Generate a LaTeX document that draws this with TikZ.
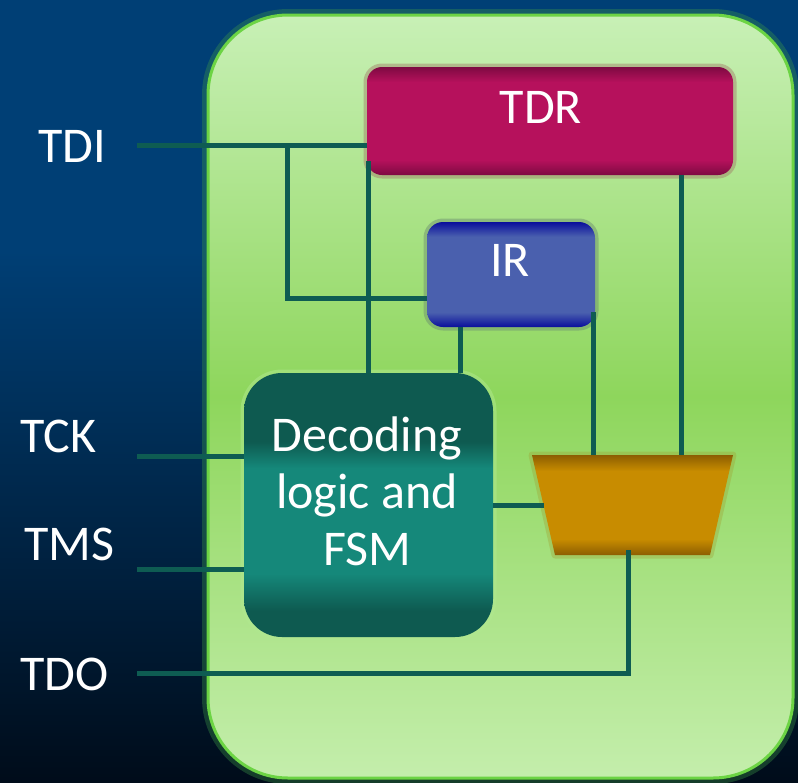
\documentclass[tikz,border=0pt]{standalone}
\usepackage{fontspec}
\setmainfont{Carlito}
\definecolor{bgtop}{HTML}{003F75}
\definecolor{bgbot}{HTML}{000C1A}
\definecolor{pantop}{HTML}{C8F0B6}
\definecolor{panmid}{HTML}{8ED65C}
\definecolor{panbot}{HTML}{C4EEAC}
\definecolor{panrim}{HTML}{6CD444}
\definecolor{panglow}{HTML}{3E9A48}
\definecolor{tdrdark}{HTML}{7E0A42}
\definecolor{tdrmid}{HTML}{B6115C}
\definecolor{tdrglow}{HTML}{A07A66}
\definecolor{irdark}{HTML}{0A0E9C}
\definecolor{irmid}{HTML}{4A60AE}
\definecolor{irglow}{HTML}{6A8A70}
\definecolor{decdark}{HTML}{0E5A50}
\definecolor{decmid}{HTML}{15887A}
\definecolor{decglow}{HTML}{B0E890}
\definecolor{muxdark}{HTML}{8C5E02}
\definecolor{muxmid}{HTML}{C88C00}
\definecolor{muxglow}{HTML}{A0A030}
\definecolor{wirec}{HTML}{0E5C52}
\pgfdeclareverticalshading{bgshade}{100bp}{color(0bp)=(bgbot); color(25bp)=(bgbot); color(59bp)=(bgtop); color(100bp)=(bgtop)}
\pgfdeclareverticalshading{panelshade}{100bp}{color(0bp)=(panbot); color(25bp)=(panbot); color(50bp)=(panmid); color(75bp)=(pantop); color(100bp)=(pantop)}
\pgfdeclareverticalshading{tdrshade}{100bp}{color(0bp)=(tdrdark); color(25bp)=(tdrdark); color(32bp)=(tdrmid); color(68bp)=(tdrmid); color(75bp)=(tdrdark); color(100bp)=(tdrdark)}
\pgfdeclareverticalshading{irshade}{100bp}{color(0bp)=(irdark); color(25bp)=(irdark); color(32bp)=(irmid); color(68bp)=(irmid); color(75bp)=(irdark); color(100bp)=(irdark)}
\pgfdeclareverticalshading{decshade}{100bp}{color(0bp)=(decdark); color(25bp)=(decdark); color(30bp)=(decdark); color(37bp)=(decmid); color(57bp)=(decmid); color(62bp)=(decdark); color(75bp)=(decdark); color(100bp)=(decdark)}
\pgfdeclareverticalshading{muxshade}{100bp}{color(0bp)=(muxdark); color(25bp)=(muxdark); color(33bp)=(muxmid); color(67bp)=(muxmid); color(75bp)=(muxdark); color(100bp)=(muxdark)}
\begin{document}
\begin{tikzpicture}[x=1pt,y=1pt,
  wire/.style={draw=wirec, line width=5pt},
  lbl/.style={text=white, font=\fontsize{50}{57}\selectfont, inner sep=0pt, outer sep=0pt},
  blk/.style={shade, inner sep=0pt, outer sep=0pt},
]
\useasboundingbox (0,0) rectangle (798,-782);
\shade[shading=bgshade] (0,0) rectangle (798,-782);
% panel
\draw[draw=panglow, line width=12pt, opacity=0.35, rounded corners=80pt] (208,-15) rectangle (793,-778);
\shade[shading=panelshade, rounded corners=80pt] (208,-15) rectangle (793,-778);
\draw[draw=panrim, line width=3pt, rounded corners=80pt] (208,-15) rectangle (793,-778);
% blocks
\node[blk, shading=tdrshade, minimum width=366pt, minimum height=108pt, rounded corners=15pt,
  preaction={draw=tdrglow, line width=7pt, opacity=0.45}] (tdr) at (550,-121) {};
\node[blk, shading=irshade, minimum width=168pt, minimum height=105pt, rounded corners=16pt,
  preaction={draw=irglow, line width=7pt, opacity=0.45}] (ir) at (511,-274.5) {};
\node[blk, shading=decshade, minimum width=249pt, minimum height=264pt, rounded corners=38pt,
  preaction={draw=decglow, line width=7pt, opacity=0.5}] (dec) at (368.5,-505) {};
\shade[shading=muxshade, preaction={draw=muxglow, line width=7pt, opacity=0.35, line join=round}]
  (532,-455) -- (733,-455) -- (710,-555) -- (555,-555) -- cycle;
\coordinate (muxin1) at (593,-455);
\coordinate (muxin2) at (681,-455);
\coordinate (muxsel) at (543.5,-505);
\coordinate (muxout) at (628,-550);
% texts
\node[lbl, anchor=base] (tdrt) at (541,-123) {TDR};
\node[lbl, anchor=base] (irt) at (510,-276) {IR};
\node[lbl, anchor=base] (dect1) at (367,-451) {Decoding};
\node[lbl, anchor=base] (dect2) at (367,-508) {logic and};
\node[lbl, anchor=base] (dect3) at (367,-565) {FSM};
\node[lbl, anchor=base west] (tdi) at (38,-162) {TDI};
\node[lbl, anchor=base west] (tck) at (20,-452) {TCK};
\node[lbl, anchor=base west] (tms) at (24,-560) {TMS};
\node[lbl, anchor=base west] (tdo) at (20,-690) {TDO};
% wires
\coordinate (tdiw) at (137,-145);
\coordinate (tap) at (287,-145);
\coordinate (irin) at (427,-298);
\coordinate (c1) at (368,-161);
\coordinate (c2) at (460,-327);
\coordinate (c3) at (593,-312);
\coordinate (tckw) at (137,-456);
\coordinate (tmsw) at (137,-569);
\coordinate (tdow) at (137,-673);
\draw[wire] (tdiw) -- (tdiw -| tdr.west);
\draw[wire] (tap) |- (irin);
\draw[wire] (c1) -- (c1 |- dec.north);
\draw[wire] (c2) -- (c2 |- dec.north);
\draw[wire] (c3) -- (muxin1);
\draw[wire] (muxin2 |- tdr.south) -- (muxin2);
\draw[wire] (dec.east |- muxsel) -- (muxsel);
\draw[wire] (muxout) |- (tdow);
\draw[wire] (tckw) -- (tckw -| dec.west);
\draw[wire] (tmsw) -- (tmsw -| dec.west);
\end{tikzpicture}
\end{document}
